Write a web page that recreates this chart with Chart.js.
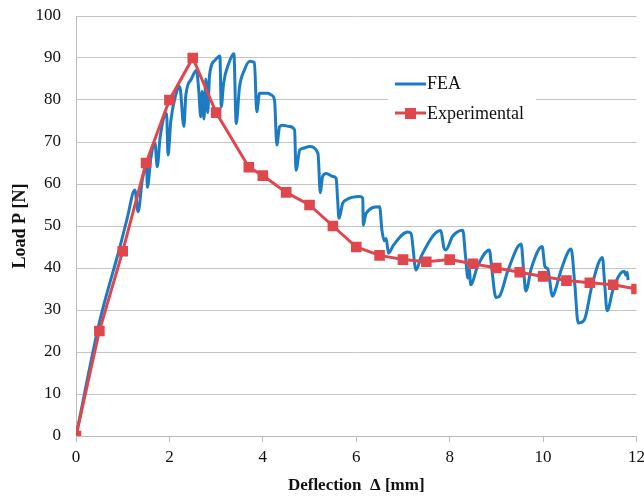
<!DOCTYPE html>
<html>
<head>
<meta charset="utf-8">
<script src="https://cdn.jsdelivr.net/npm/chart.js@4.4.1/dist/chart.umd.min.js"></script>
<style>
    html, body { margin: 0; padding: 0; background: #ffffff; }
    canvas { display: block; }
</style>
</head>
<body>
<canvas id="chart" width="644" height="498"></canvas>
<script>
// FEA curve (deflection in mm, load in N)
const feaX = [0, 0.5, 0.94, 1.1, 1.26, 1.33, 1.42, 1.51, 1.53, 1.6, 1.69, 1.74, 1.8, 1.94, 1.97, 2.03, 2.12, 2.22,
    2.31, 2.35, 2.47, 2.58, 2.63, 2.67, 2.7, 2.74, 2.78, 2.82, 2.86, 2.98, 3.08, 3.11, 3.16, 3.28, 3.38, 3.43,
    3.5, 3.6, 3.72, 3.82, 3.87, 3.93, 4.11, 4.18, 4.25, 4.3, 4.36, 4.43, 4.57, 4.68, 4.71, 4.79, 4.86, 5.0,
    5.18, 5.23, 5.28, 5.36, 5.5, 5.57, 5.6, 5.63, 5.71, 5.78, 6.07, 6.14, 6.15, 6.21, 6.5, 6.55, 6.6, 6.64,
    6.69, 6.8, 7.1, 7.17, 7.28, 7.4, 7.81, 7.88, 7.92, 8.06, 8.28, 8.34, 8.39, 8.42, 8.45, 8.6, 8.85, 8.9,
    8.99, 9.06, 9.25, 9.53, 9.58, 9.63, 9.75, 9.98, 10.04, 10.1, 10.2, 10.24, 10.4, 10.6, 10.68, 10.75, 10.88,
    11.05, 11.27, 11.32, 11.37, 11.5, 11.65, 11.74, 11.77, 11.8, 11.82];
const feaY = [0, 27, 45, 52, 58.6, 53.4, 61, 64.1, 59.2, 66, 69.7, 64.1, 71, 76.8, 66.9, 75, 80.5, 83.2,
    73.7, 81, 85, 87.1, 82, 76, 82, 75.5, 85, 77, 86, 89.5, 90.5, 78.4, 84, 89, 91, 74.4,
    83, 87, 89.2, 88.9, 77.2, 81.6, 81.6, 81.2, 80, 69.3, 73.7, 74, 73.7, 72.9, 63.3, 68.1, 68.5, 68.9,
    67.3, 57.9, 61.8, 62.5, 61.8, 61.3, 56.5, 51.8, 55.4, 56.2, 57, 56.6, 50.2, 53, 54.6, 49, 46.5, 47,
    43.5, 45.5, 48.6, 48.3, 39.5, 43, 48.9, 44.7, 44.3, 47.5, 49, 42.7, 37.6, 39.9, 36, 40.5, 44.3, 40,
    33, 33.2, 39.5, 45.7, 40, 34.5, 40, 45.1, 40.3, 39.8, 33.3, 34, 40, 44.5, 36, 26.9, 27.6,
    36, 42.5, 36, 29.8, 35, 38.6, 39.2, 38.3, 39, 37.1];

// Experimental points
const expX = [0, 0.5, 1, 1.5, 2, 2.5, 3, 3.7, 4, 4.5, 5, 5.5, 6, 6.5, 7, 7.5, 8, 8.5, 9, 9.5, 10, 10.5, 11, 11.5, 12];
const expY = [0, 25, 44, 65, 80, 90, 77, 64, 62, 58, 55, 50, 45, 43, 42, 41.5, 42, 41, 40, 39, 38, 37, 36.5, 36, 35];

const seriesNames = ['FEA', 'Experimental'];
const xTitle = 'Deflection  Δ [mm]';
const yTitle = 'Load P [N]';

const feaColor = '#1b7cc4';
const expColor = '#e0474c';
const gridColor = '#c4c4c4';
const axisColor = '#bcbcbc';
const serif = "'Liberation Serif', 'Times New Roman', serif";

const toPoints = (xs, ys) => xs.map((x, i) => ({x: x, y: ys[i]}));

// legend drawn inside the plot, on a white box
const boxLegend = {
    id: 'boxLegend',
    afterDraw(chart) {
        const ctx = chart.ctx;
        ctx.save();
        ctx.fillStyle = '#ffffff';
        ctx.fillRect(388, 68, 148, 62);

        ctx.lineWidth = 3;
        ctx.strokeStyle = feaColor;
        ctx.beginPath();
        ctx.moveTo(395, 84);
        ctx.lineTo(426, 84);
        ctx.stroke();

        ctx.strokeStyle = expColor;
        ctx.beginPath();
        ctx.moveTo(395, 113);
        ctx.lineTo(426, 113);
        ctx.stroke();
        ctx.fillStyle = expColor;
        ctx.fillRect(405, 108, 11, 11);

        ctx.fillStyle = '#111111';
        ctx.font = '18px ' + serif;
        ctx.textBaseline = 'middle';
        ctx.textAlign = 'left';
        ctx.fillText(seriesNames[0], 427, 84);
        ctx.fillText(seriesNames[1], 427, 114);
        ctx.restore();
    }
};

new Chart(document.getElementById('chart'), {
    type: 'scatter',
    data: {
        datasets: [
            {
                label: seriesNames[1],
                data: toPoints(expX, expY),
                showLine: true,
                borderColor: expColor,
                backgroundColor: expColor,
                borderWidth: 3,
                pointStyle: 'rect',
                pointRadius: 7.5,
                pointBorderWidth: 0,
                order: 0,
            },
            {
                label: seriesNames[0],
                data: toPoints(feaX, feaY),
                showLine: true,
                borderColor: feaColor,
                backgroundColor: feaColor,
                borderWidth: 3,
                borderJoinStyle: 'round',
                cubicInterpolationMode: 'monotone',
                pointRadius: 0,
                order: 1,
            },
        ],
    },
    options: {
        responsive: false,
        animation: false,
        layout: {
            padding: {top: 16, right: 6, left: 0, bottom: 0},
        },
        scales: {
            x: {
                type: 'linear',
                min: 0,
                max: 12,
                border: {color: axisColor, width: 1},
                grid: {drawOnChartArea: false, drawTicks: true, tickLength: 6, color: axisColor},
                ticks: {
                    stepSize: 2,
                    padding: 5,
                    maxRotation: 0,
                    color: '#111111',
                    font: {family: serif, size: 17},
                },
                title: {
                    display: true,
                    text: xTitle,
                    color: '#111111',
                    font: {family: serif, size: 17, weight: 'bold'},
                    padding: {top: 0, bottom: 2},
                },
                afterFit(scale) {
                    scale.height = 62;
                    scale.paddingRight = 0;
                    scale.paddingLeft = 0;
                },
            },
            y: {
                type: 'linear',
                min: 0,
                max: 100,
                border: {color: axisColor, width: 1},
                grid: {color: gridColor, lineWidth: 1, drawTicks: false},
                ticks: {
                    stepSize: 10,
                    padding: 15,
                    color: '#111111',
                    font: {family: serif, size: 17},
                },
                title: {
                    display: true,
                    text: yTitle,
                    color: '#111111',
                    font: {family: serif, size: 18, weight: 'bold'},
                    padding: {top: 10, bottom: 0},
                },
                afterFit(scale) {
                    scale.width = 76;
                    scale.paddingTop = 0;
                    scale.paddingBottom = 0;
                },
            },
        },
        plugins: {
            legend: {display: false},
            tooltip: {enabled: false},
        },
    },
    plugins: [boxLegend],
});
</script>
</body>
</html>
